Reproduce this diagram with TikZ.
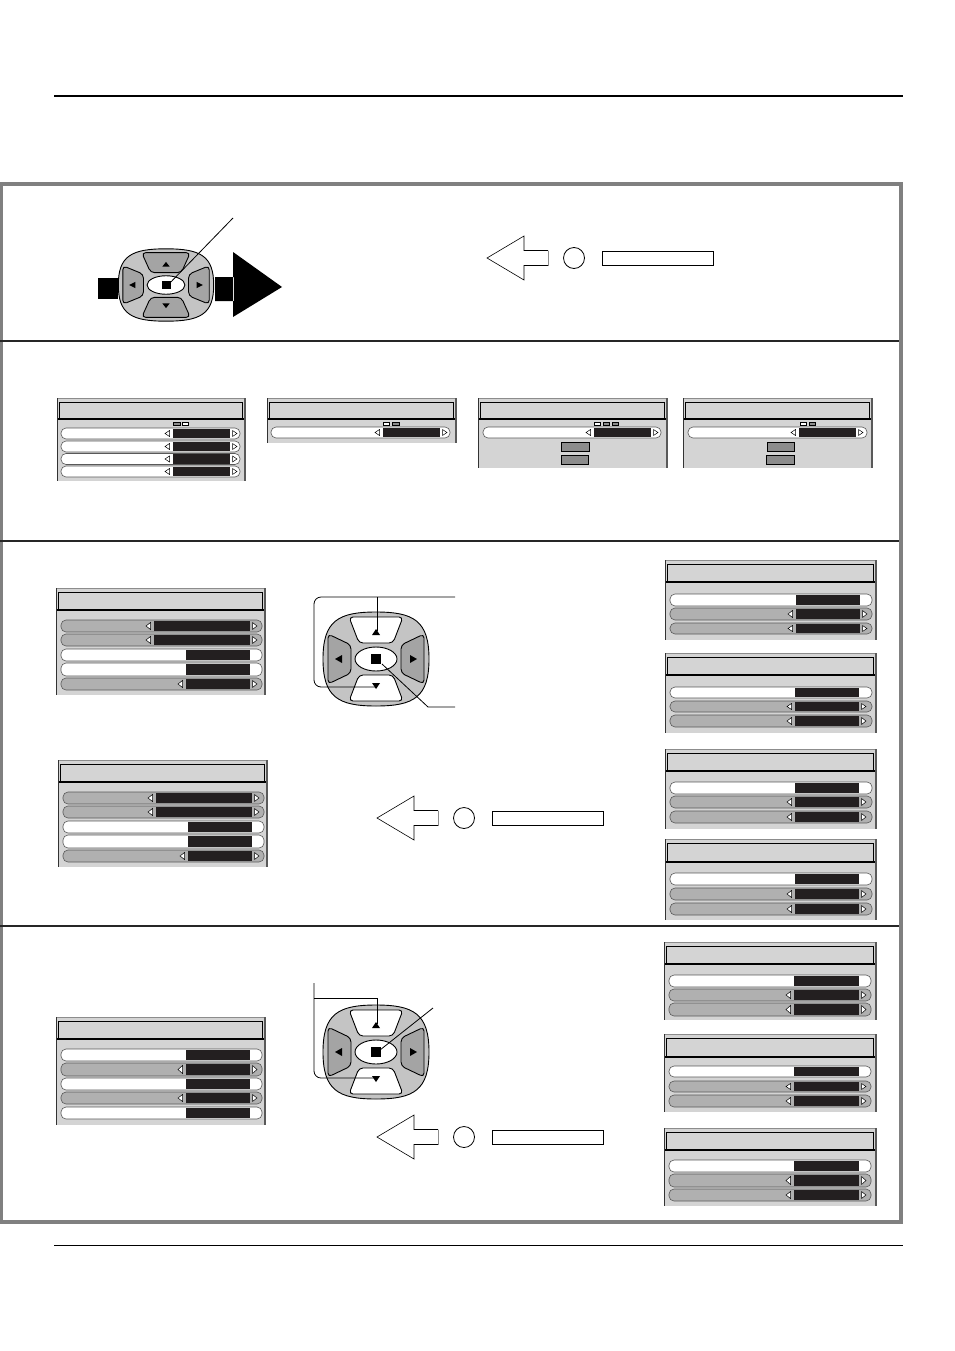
\documentclass[tikz,border=0pt]{standalone}
\usetikzlibrary{calc}
\definecolor{mbg}{HTML}{D4D4D4}
\definecolor{mgray}{HTML}{B0B0B0}
\definecolor{mblack}{HTML}{231F20}
\definecolor{frameg}{HTML}{808080}
\definecolor{btngray}{HTML}{8C8C8C}
\definecolor{padouter}{HTML}{C4C4C4}
\definecolor{padbtn}{HTML}{A4A4A4}
\tikzset{
  sepline/.style={line width=1.3,black!85},
  rowpill/.style={line width=0.6,draw=black!65,rounded corners=5},
  glyph/.style={line width=0.5,draw=black,fill=white},
  indic/.style={line width=0.6,draw=black},
  menubtn/.style={line width=0.8,draw=black,fill=btngray},
  padline/.style={line width=0.9,black},
  thinline/.style={line width=0.8,black},
}
% menu frame: x1 y1 x2 y2 titlebottom
\newcommand{\menuframe}[5]{%
  \fill[mbg] (#1,#2) rectangle (#3,#4);
  \draw[line width=0.7,black!45] (#1,#2) -- (#3,#2);
  \draw[line width=1.0,black!80] (#1,#2) -- (#1,#4);
  \draw[line width=2,black!65] (#3,#2) -- (#3,#4);
  \draw[line width=0.7,black,fill=mbg] ({#1+2.5},{#2+4.5}) rectangle ({#3-2.5},#5);
  \draw[line width=1.6,black] ({#1+1},#5) -- ({#3-1.5},#5);
}
% row: fill x1 x2 ya yb bx1 bx2 arrows(1/0)
\newcommand{\mrow}[8]{%
  \draw[rowpill,fill=#1] (#2,#4) rectangle (#3,#5);
  \fill[mblack] (#6,{#4+0.7}) rectangle (#7,{#5-0.7});
  \ifnum#8=1
    \draw[glyph] ({#6-3.5},{#4+2.5}) -- ({#6-8},{(#4+#5)/2}) -- ({#6-3.5},{#5-2.5}) -- cycle;
    \draw[glyph] ({#7+2.5},{#4+2.5}) -- ({#7+7},{(#4+#5)/2}) -- ({#7+2.5},{#5-2.5}) -- cycle;
  \fi
}
% remote pad: cx cy xscale yscale updownfill
\newcommand{\remotepad}[5]{%
  \begin{scope}[shift={(#1,#2)},xscale=#3,yscale=#4]
    \draw[padline,fill=padouter] (-53,0) .. controls (-53,-38) and (-38,-47) .. (0,-47)
      .. controls (38,-47) and (53,-38) .. (53,0)
      .. controls (53,38) and (38,47) .. (0,47)
      .. controls (-38,47) and (-53,38) .. (-53,0) -- cycle;
    \draw[padline,fill=#5,rounded corners=4] (-27,-42) -- (27,-42) -- (17,-16) -- (-17,-16) -- cycle;
    \draw[padline,fill=#5,rounded corners=4] (-17,16) -- (17,16) -- (27,42) -- (-27,42) -- cycle;
    \draw[padline,fill=padbtn,rounded corners=4] (-48,-25) -- (-25,-14) -- (-25,14) -- (-48,25) -- cycle;
    \draw[padline,fill=padbtn,rounded corners=4] (48,-25) -- (25,-14) -- (25,14) -- (48,25) -- cycle;
    \draw[padline,fill=white] (0,0) ellipse [x radius=21,y radius=12];
    \fill[black] (-5,-5) rectangle (5,5);
    \fill[black] (-4,-24) -- (4,-24) -- (0,-30) -- cycle;
    \fill[black] (-4,24) -- (4,24) -- (0,30) -- cycle;
    \fill[black] (-34,-4) -- (-34,4) -- (-41,0) -- cycle;
    \fill[black] (34,-4) -- (34,4) -- (41,0) -- cycle;
  \end{scope}
}
% hollow arrow with circle and box: tipx y
\newcommand{\hollowarr}[2]{%
  \draw[line width=0.6] ({#1+61},{#2-7.5}) -- ({#1+37},{#2-7.5}) -- ({#1+37},{#2-22}) -- (#1,#2)
     -- ({#1+37},{#2+22}) -- ({#1+37},{#2+7.5}) -- ({#1+61},{#2+7.5});
  \draw[line width=1,black!45] ({#1+61},{#2-7.5}) -- ({#1+61},{#2+7.5});
  \draw[line width=0.8] ({#1+87},#2) circle [radius=10.5];
  \draw[line width=0.8] ({#1+115},{#2-7}) rectangle ({#1+226},{#2+7});
}
\begin{document}
\begin{tikzpicture}[x=1pt,y=-1pt]
\useasboundingbox (0,0) rectangle (954,1351);
\fill[white] (0,0) rectangle (954,1351);

% header / footer rules
\draw[line width=2.6] (54,96) -- (903,96);
\draw[line width=0.8] (54,1245) -- (903,1245);

% frame and separators
\draw[line width=4,frameg] (1,184) rectangle (901,1222);
\draw[sepline] (0,341) -- (899,341);
\draw[sepline] (0,541) -- (899,541);
\draw[sepline] (0,926) -- (899,926);

% ---------- section 1 ----------
\fill[black] (98,278) rectangle (118,299);
\remotepad{166}{285}{0.9}{0.77}{padbtn}
\coordinate (c1) at (166,287);
\coordinate (c1e) at (233,218);
\draw[thinline] (c1) -- (c1e);
\fill[black] (215,277) rectangle (234,301) (233,252) -- (282,287) -- (233,317) -- cycle;
\hollowarr{487}{258}

% ---------- section 2 ----------
\menuframe{57}{398}{245}{481}{419}
\draw[indic,fill=btngray] (173,422) rectangle (180,425.5);
\draw[indic,fill=white] (182,422) rectangle (188.5,425.5);
\mrow{white}{61}{240}{428}{439}{173}{230}{1}
\mrow{white}{61}{240}{441}{452}{173}{230}{1}
\mrow{white}{61}{240}{453.5}{464.5}{173}{230}{1}
\mrow{white}{61}{240}{466}{477}{173}{230}{1}

\menuframe{267}{398}{456}{443}{419}
\draw[indic,fill=white] (383,422) rectangle (389.5,425.5);
\draw[indic,fill=btngray] (392.5,422) rectangle (399,425.5);
\mrow{white}{271}{450}{427}{438}{383}{440}{1}

\menuframe{478}{398}{667}{468}{419}
\draw[indic,fill=white] (594,422) rectangle (600,425.5);
\draw[indic,fill=btngray] (603,422) rectangle (609,425.5);
\draw[indic,fill=btngray] (612,422) rectangle (618,425.5);
\mrow{white}{483}{661}{427}{438}{594}{651}{1}
\draw[menubtn] (561,442) rectangle (589,451);
\draw[menubtn] (561,455) rectangle (588,464);

\menuframe{683}{398}{872}{468}{419}
\draw[indic,fill=white] (800,422) rectangle (806,425.5);
\draw[indic,fill=btngray] (809,422) rectangle (815,425.5);
\mrow{white}{688}{867}{427}{438}{799}{856}{1}
\draw[menubtn] (767,442) rectangle (794,451);
\draw[menubtn] (766,455) rectangle (794,464);

% ---------- section 3 ----------
\menuframe{56}{588}{265}{695}{610}
\mrow{mgray}{61}{262}{620}{632}{154}{250}{1}
\mrow{mgray}{61}{262}{634}{646}{154}{250}{1}
\mrow{white}{61}{262}{649}{661}{186}{250}{0}
\mrow{white}{61}{262}{663}{676}{186}{250}{0}
\mrow{mgray}{61}{262}{678}{690}{186}{250}{1}

\menuframe{58}{760}{267}{867}{782}
\mrow{mgray}{63}{264}{792}{804}{156}{252}{1}
\mrow{mgray}{63}{264}{806}{818}{156}{252}{1}
\mrow{white}{63}{264}{821}{833}{188}{252}{0}
\mrow{white}{63}{264}{835}{848}{188}{252}{0}
\mrow{mgray}{63}{264}{850}{862}{188}{252}{1}

\remotepad{376}{659}{1}{1}{white}
\coordinate (u3) at (377,631);
\coordinate (d3) at (377,687);
\coordinate (t3) at (455,597);
\coordinate (m3) at (382,664);
\coordinate (b3) at (455,707);
\draw[thinline,rounded corners=7] (t3) -- (314,597) -- (314,687) -- (d3);
\draw[thinline] (377,597) -- (u3);
\draw[thinline] (m3) -- (428,707) -- (b3);
\hollowarr{377}{818}

\menuframe{665}{560}{876}{640}{582}
\mrow{white}{670}{872}{594}{606}{796}{860}{0}
\mrow{mgray}{670}{872}{608}{620}{796}{860}{1}
\mrow{mgray}{670}{872}{623}{634}{796}{860}{1}

\menuframe{665}{653}{876}{733}{675}
\mrow{white}{670}{872}{687}{698}{795}{859}{0}
\mrow{mgray}{670}{872}{701}{712}{795}{859}{1}
\mrow{mgray}{670}{872}{715}{727}{795}{859}{1}

\menuframe{665}{749}{876}{829}{771}
\mrow{white}{670}{872}{782}{794}{795}{859}{0}
\mrow{mgray}{670}{872}{796}{808}{795}{859}{1}
\mrow{mgray}{670}{872}{811}{823}{795}{859}{1}

\menuframe{665}{839}{876}{920}{862}
\mrow{white}{670}{872}{873}{885}{795}{859}{0}
\mrow{mgray}{670}{872}{888}{900}{795}{859}{1}
\mrow{mgray}{670}{872}{903}{915}{795}{859}{1}

% ---------- section 4 ----------
\menuframe{56}{1017}{265}{1125}{1039}
\mrow{white}{61}{262}{1049}{1061}{186}{250}{0}
\mrow{mgray}{61}{262}{1063}{1076}{186}{250}{1}
\mrow{white}{61}{262}{1078}{1090}{186}{250}{0}
\mrow{mgray}{61}{262}{1092}{1104}{186}{250}{1}
\mrow{white}{61}{262}{1107}{1119}{186}{250}{0}

\remotepad{376}{1052}{1}{1}{white}
\coordinate (u4) at (377,1024);
\coordinate (d4) at (377,1078);
\coordinate (s4) at (314,983);
\coordinate (m4) at (380,1050);
\coordinate (e4) at (433,1008);
\draw[thinline,rounded corners=7] (s4) -- (314,1078) -- (d4);
\draw[thinline] (314,998) -- (377,998) -- (u4);
\draw[thinline] (m4) -- (e4);
\hollowarr{377}{1137}

\menuframe{664}{942}{876}{1020}{964}
\mrow{white}{669}{871}{975}{987}{794}{859}{0}
\mrow{mgray}{669}{871}{989}{1001}{794}{859}{1}
\mrow{mgray}{669}{871}{1003}{1016}{794}{859}{1}

\menuframe{664}{1034}{876}{1112}{1057}
\mrow{white}{669}{871}{1066}{1077}{794}{859}{0}
\mrow{mgray}{669}{871}{1081}{1092}{794}{859}{1}
\mrow{mgray}{669}{871}{1095}{1107}{794}{859}{1}

\menuframe{664}{1128}{876}{1206}{1150}
\mrow{white}{669}{871}{1160}{1172}{794}{859}{0}
\mrow{mgray}{669}{871}{1174}{1187}{794}{859}{1}
\mrow{mgray}{669}{871}{1189}{1201}{794}{859}{1}
\end{tikzpicture}
\end{document}
